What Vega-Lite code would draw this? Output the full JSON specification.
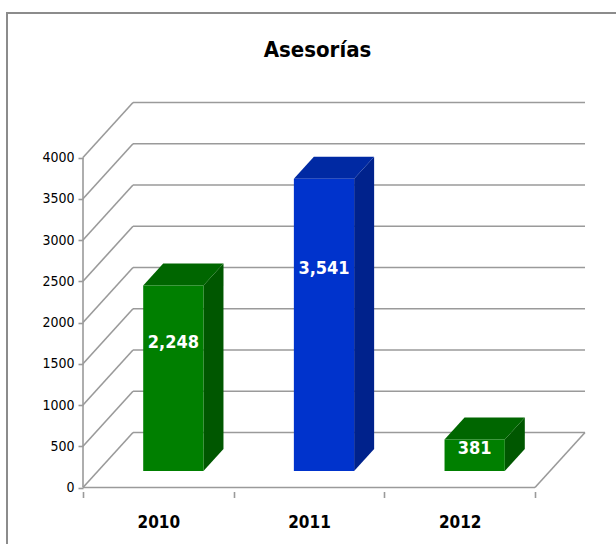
{
  "$schema": "https://vega.github.io/schema/vega-lite/v6.json",
  "width": 613,
  "height": 535,
  "autosize": {"type": "none"},
  "padding": {"left": 7, "top": 13, "right": -4, "bottom": -4},
  "background": "white",
  "config": {
    "view": {"stroke": "#8c8c8c", "strokeWidth": 2},
    "font": "Liberation Sans Narrow, DejaVu Sans Condensed, Liberation Sans, sans-serif"
  },
  "title": {
    "text": "Asesorías",
    "font": "Liberation Sans Narrow, DejaVu Sans Condensed, Liberation Sans, sans-serif",
    "fontSize": 22,
    "fontWeight": "bold",
    "color": "black",
    "anchor": "middle",
    "frame": "group",
    "offset": -49,
    "dx": 4
  },
  "datasets": {
    "bars": [
      {"year": 2010, "value": 2248},
      {"year": 2011, "value": 3541},
      {"year": 2012, "value": 381}
    ],
    "grid": [
      {"v": 0}, {"v": 500}, {"v": 1000}, {"v": 1500}, {"v": 2000},
      {"v": 2500}, {"v": 3000}, {"v": 3500}, {"v": 4000}
    ]
  },
  "layer": [
    {
      "data": {"name": "grid"},
      "transform": [
        {"calculate": "datum.v + 666.7", "as": "vb"},
        {"calculate": "0.3319", "as": "gx"},
        {"calculate": "3.3319", "as": "gx2"}
      ],
      "mark": {"type": "rule", "color": "#9a9a9a", "strokeWidth": 1.6},
      "encoding": {
        "x": {
          "field": "gx",
          "type": "quantitative",
          "scale": {"domain": [0, 3.3319], "range": [76, 578], "nice": false, "zero": false},
          "axis": {
            "orient": "bottom",
            "offset": -56.5,
            "values": [0, 0.5, 1, 1.5, 2, 2.5, 3],
            "labelExpr": "datum.value === 0.5 ? '2010' : datum.value === 1.5 ? '2011' : datum.value === 2.5 ? '2012' : ''",
            "domain": false,
            "grid": false,
            "ticks": true,
            "tickSize": 6,
            "tickColor": "#9a9a9a",
            "tickWidth": 1.6,
            "tickOpacity": {"condition": {"test": "datum.value % 1 === 0", "value": 1}, "value": 0},
            "labelFontSize": 17,
            "labelFontWeight": "bold",
            "labelColor": "black",
            "labelPadding": 17,
            "labelBound": false,
            "labelOverlap": false,
            "title": null
          }
        },
        "x2": {"field": "gx2"},
        "y": {
          "field": "vb",
          "type": "quantitative",
          "scale": {"domain": [0, 4666.7], "range": [474.5, 89.5], "nice": false, "zero": false},
          "axis": {
            "orient": "left",
            "offset": -76,
            "values": [0, 500, 1000, 1500, 2000, 2500, 3000, 3500, 4000],
            "format": "d",
            "domain": false,
            "grid": false,
            "ticks": true,
            "tickSize": 5,
            "tickColor": "#9a9a9a",
            "tickWidth": 1.6,
            "labelFontSize": 14,
            "labelColor": "black",
            "labelPadding": 4,
            "labelOverlap": false,
            "labelBound": false,
            "title": null
          }
        }
      }
    },
    {
      "data": {"name": "grid"},
      "transform": [
        {"calculate": "datum.v + 666.7", "as": "vb"},
        {"calculate": "0", "as": "gx"},
        {"calculate": "0.3319", "as": "gx2"}
      ],
      "mark": {"type": "rule", "color": "#9a9a9a", "strokeWidth": 1.6},
      "encoding": {
        "x": {"field": "gx", "type": "quantitative"},
        "x2": {"field": "gx2"},
        "y": {"field": "v", "type": "quantitative"},
        "y2": {"field": "vb"}
      }
    },
    {
      "data": {"name": "grid"},
      "transform": [
        {"filter": "datum.v === 0"},
        {"calculate": "0", "as": "ax"},
        {"calculate": "3", "as": "ax2"}
      ],
      "mark": {"type": "rule", "color": "#9a9a9a", "strokeWidth": 1.6},
      "encoding": {
        "x": {"field": "ax", "type": "quantitative"},
        "x2": {"field": "ax2"},
        "y": {"field": "v", "type": "quantitative"}
      }
    },
    {
      "data": {"name": "grid"},
      "transform": [
        {"filter": "datum.v === 0"},
        {"calculate": "0", "as": "ax"},
        {"calculate": "4000", "as": "ay2"}
      ],
      "mark": {"type": "rule", "color": "#9a9a9a", "strokeWidth": 1.6},
      "encoding": {
        "x": {"field": "ax", "type": "quantitative"},
        "y": {"field": "v", "type": "quantitative"},
        "y2": {"field": "ay2"}
      }
    },
    {
      "data": {"name": "grid"},
      "transform": [
        {"filter": "datum.v === 0"},
        {"calculate": "3", "as": "ax"},
        {"calculate": "3.3319", "as": "ax2"},
        {"calculate": "666.7", "as": "ay2"}
      ],
      "mark": {"type": "rule", "color": "#9a9a9a", "strokeWidth": 1.6},
      "encoding": {
        "x": {"field": "ax", "type": "quantitative"},
        "x2": {"field": "ax2"},
        "y": {"field": "v", "type": "quantitative"},
        "y2": {"field": "ay2"}
      }
    },
    {
      "data": {"name": "bars"},
      "transform": [
        {"calculate": "datum.year - 2010", "as": "k"},
        {"calculate": "[0.3, 0.7]", "as": "d"},
        {"flatten": ["d"]},
        {"calculate": "datum.k + 0.7 + 0.3319 * datum.d", "as": "sx"},
        {"calculate": "datum.value + 666.7 * datum.d", "as": "sy"},
        {"calculate": "666.7 * datum.d", "as": "sy0"}
      ],
      "mark": {"type": "area", "orient": "vertical", "interpolate": "linear"},
      "encoding": {
        "x": {"field": "sx", "type": "quantitative"},
        "y": {"field": "sy", "type": "quantitative", "stack": null},
        "y2": {"field": "sy0"},
        "color": {
          "field": "year",
          "type": "nominal",
          "scale": {"domain": [2010, 2011, 2012], "range": ["#005700", "#00228c", "#005700"]},
          "legend": null
        }
      }
    },
    {
      "data": {"name": "bars"},
      "transform": [
        {"calculate": "datum.year - 2010", "as": "k"},
        {"calculate": "[0.3, 0.7]", "as": "d"},
        {"flatten": ["d"]},
        {"calculate": "datum.k + 0.3 + 0.3319 * datum.d", "as": "tx"},
        {"calculate": "datum.k + 0.7 + 0.3319 * datum.d", "as": "tx2"},
        {"calculate": "datum.value + 666.7 * datum.d", "as": "ty"}
      ],
      "mark": {"type": "area", "orient": "horizontal", "interpolate": "linear"},
      "encoding": {
        "y": {"field": "ty", "type": "quantitative"},
        "x": {"field": "tx", "type": "quantitative", "stack": null},
        "x2": {"field": "tx2"},
        "color": {
          "field": "year",
          "type": "nominal",
          "scale": {"domain": [2010, 2011, 2012], "range": ["#006600", "#0029a3", "#006600"]},
          "legend": null
        }
      }
    },
    {
      "data": {"name": "bars"},
      "transform": [
        {"calculate": "datum.year - 2010", "as": "k"},
        {"calculate": "datum.k + 0.3996", "as": "fx"},
        {"calculate": "datum.k + 0.7996", "as": "fx2"},
        {"calculate": "200", "as": "fy0"},
        {"calculate": "datum.value + 200", "as": "fy"}
      ],
      "mark": {"type": "rect"},
      "encoding": {
        "x": {"field": "fx", "type": "quantitative"},
        "x2": {"field": "fx2"},
        "y": {"field": "fy0", "type": "quantitative"},
        "y2": {"field": "fy"},
        "color": {
          "field": "year",
          "type": "nominal",
          "scale": {"domain": [2010, 2011, 2012], "range": ["#007f00", "#0033cc", "#007f00"]},
          "legend": null
        }
      }
    },
    {
      "data": {"name": "bars"},
      "transform": [
        {"calculate": "datum.year - 2010", "as": "k"},
        {"calculate": "datum.k + 0.5996", "as": "lx"},
        {"calculate": "0.69 * datum.value + 200", "as": "ly"}
      ],
      "mark": {"type": "text", "color": "white", "fontWeight": "bold", "fontSize": 18, "align": "center", "baseline": "middle"},
      "encoding": {
        "x": {"field": "lx", "type": "quantitative"},
        "y": {"field": "ly", "type": "quantitative"},
        "text": {"field": "value", "type": "quantitative", "format": ","}
      }
    }
  ],
  "resolve": {"scale": {"color": "independent"}}
}
